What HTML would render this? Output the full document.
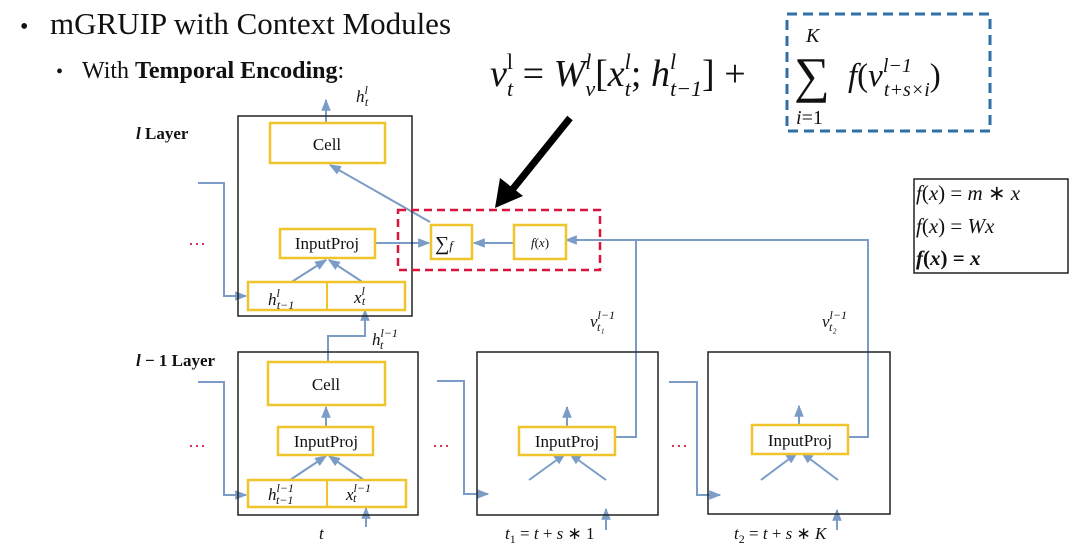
<!DOCTYPE html>
<html><head><meta charset="utf-8"><style>
html,body{margin:0;padding:0;background:#fff;width:1080px;height:546px;overflow:hidden}
svg{display:block}
text{font-family:"Liberation Serif",serif;fill:#111}
.i{font-style:italic}
</style></head><body>
<svg width="1080" height="546" viewBox="0 0 1080 546" xmlns="http://www.w3.org/2000/svg">
<defs>
<marker id="a" viewBox="0 0 10 10" refX="9" refY="5" markerWidth="6" markerHeight="6" orient="auto"><path d="M0,1 L10,5 L0,9 z" fill="#7a9cc6"/></marker>
</defs>
<text x="20" y="34" font-size="24">•</text>
<text x="50" y="34" font-size="31">mGRUIP with Context Modules</text>
<text x="56" y="78" font-size="20">•</text>
<text x="82" y="78" font-size="24">With <tspan font-weight="bold">Temporal Encoding</tspan>:</text>
<text x="490" y="86" font-size="38" class="i">v<tspan font-size="22" dy="-17" font-style="normal">l</tspan><tspan font-size="22" dx="-6" dy="27">t</tspan><tspan dy="-10" font-style="normal"> = </tspan>W<tspan font-size="22" dy="-17">l</tspan><tspan font-size="22" dx="-6" dy="27">v</tspan><tspan dy="-10" font-style="normal">[</tspan>x<tspan font-size="22" dy="-17">l</tspan><tspan font-size="22" dx="-6" dy="27">t</tspan><tspan dy="-10" font-style="normal">; </tspan>h<tspan font-size="22" dy="-17">l</tspan><tspan font-size="22" dx="-6" dy="27">t−1</tspan><tspan dy="-10" font-style="normal">] +</tspan></text>
<text x="794" y="92" font-size="50" font-style="normal">∑</text>
<text x="806" y="42" font-size="20" class="i">K</text>
<text x="796" y="124" font-size="20" class="i">i<tspan font-style="normal">=1</tspan></text>
<text x="848" y="86" font-size="33" class="i">f<tspan font-style="normal">(</tspan>v<tspan font-size="20" dy="-14">l−1</tspan><tspan font-size="20" dx="-28" dy="24">t+s×i</tspan><tspan dy="-10" font-style="normal">)</tspan></text>
<rect x="787" y="14" width="203" height="117" fill="none" stroke="#2f6fa6" stroke-width="3" stroke-dasharray="10,6"/>
<line x1="570" y1="118" x2="512" y2="190" stroke="#000" stroke-width="7"/>
<path d="M495,208 L500,178 L523,196 z" fill="#000"/>
<text x="136" y="139" font-size="17" font-weight="bold"><tspan class="i">l</tspan> Layer</text>
<text x="136" y="366" font-size="17" font-weight="bold"><tspan class="i">l</tspan> − 1 Layer</text>
<text x="188" y="250" font-size="18" style="fill:#d0103a">···</text>
<text x="188" y="452" font-size="18" style="fill:#d0103a">···</text>
<text x="432" y="452" font-size="18" style="fill:#d0103a">···</text>
<text x="670" y="452" font-size="18" style="fill:#d0103a">···</text>
<g stroke="#7a9cc6" stroke-width="2" fill="none">
<path d="M198,183 H224 V296 H246" marker-end="url(#a)"/>
<line x1="326" y1="122" x2="326" y2="100" marker-end="url(#a)"/>
<line x1="430" y1="222" x2="330" y2="165" marker-end="url(#a)"/>
<line x1="290" y1="283" x2="326" y2="260" marker-end="url(#a)"/>
<line x1="364" y1="283" x2="329" y2="260" marker-end="url(#a)"/>
<line x1="375" y1="243" x2="429" y2="243" marker-end="url(#a)"/>
<line x1="514" y1="243" x2="474" y2="243" marker-end="url(#a)"/>
<path d="M848,437 H868 V240 H566" marker-end="url(#a)"/>
<path d="M615,437 H636 V240"/>
<path d="M328,362 V336 H365 V310" marker-end="url(#a)"/>
<path d="M198,382 H224 V495 H246" marker-end="url(#a)"/>
<line x1="326" y1="427" x2="326" y2="407" marker-end="url(#a)"/>
<line x1="290" y1="480" x2="326" y2="456" marker-end="url(#a)"/>
<line x1="364" y1="480" x2="329" y2="456" marker-end="url(#a)"/>
<line x1="366" y1="527" x2="366" y2="508" marker-end="url(#a)"/>
<path d="M437,381 H464 V494 H488" marker-end="url(#a)"/>
<line x1="567" y1="427" x2="567" y2="407" marker-end="url(#a)"/>
<line x1="529" y1="480" x2="565" y2="454" marker-end="url(#a)"/>
<line x1="606" y1="480" x2="570" y2="454" marker-end="url(#a)"/>
<line x1="606" y1="530" x2="606" y2="509" marker-end="url(#a)"/>
<path d="M669,382 H697 V495 H720" marker-end="url(#a)"/>
<line x1="799" y1="425" x2="799" y2="406" marker-end="url(#a)"/>
<line x1="761" y1="480" x2="797" y2="453" marker-end="url(#a)"/>
<line x1="838" y1="480" x2="802" y2="453" marker-end="url(#a)"/>
<line x1="837" y1="530" x2="837" y2="510" marker-end="url(#a)"/>
</g>
<g fill="none" stroke="#222" stroke-width="1.5">
<rect x="238" y="116" width="174" height="200"/>
<rect x="238" y="352" width="180" height="163"/>
<rect x="477" y="352" width="181" height="163"/>
<rect x="708" y="352" width="182" height="162"/>
<rect x="914" y="179" width="154" height="94"/>
</g>
<g fill="#fff" stroke="#f0c52c" stroke-width="2.5">
<rect x="270" y="123" width="115" height="40"/>
<rect x="280" y="229" width="95" height="29"/>
<rect x="248" y="282" width="157" height="28"/>
<rect x="431" y="225" width="41" height="34"/>
<rect x="514" y="225" width="52" height="34"/>
<rect x="268" y="362" width="117" height="43"/>
<rect x="278" y="427" width="95" height="28"/>
<rect x="248" y="480" width="158" height="27"/>
<rect x="519" y="427" width="96" height="28"/>
<rect x="752" y="425" width="96" height="29"/>
</g>
<line x1="327" y1="282" x2="327" y2="310" stroke="#f0c52c" stroke-width="2"/>
<line x1="327" y1="480" x2="327" y2="507" stroke="#f0c52c" stroke-width="2"/>
<rect x="398" y="210" width="202" height="60" fill="none" stroke="#d8143a" stroke-width="2.5" stroke-dasharray="8,5"/>
<g font-size="17" text-anchor="middle">
<text x="327" y="150">Cell</text>
<text x="327" y="249">InputProj</text>
<text x="326" y="390">Cell</text>
<text x="326" y="447">InputProj</text>
<text x="567" y="447">InputProj</text>
<text x="800" y="446">InputProj</text>
</g>
<text x="435" y="250" font-size="20">∑<tspan font-size="13" class="i">f</tspan></text>
<text x="540" y="247" font-size="13" class="i" text-anchor="middle">f<tspan font-style="normal">(</tspan>x<tspan font-style="normal">)</tspan></text>
<g class="i" font-size="17">
<text x="268" y="305">h<tspan font-size="12" dy="-8">l</tspan><tspan font-size="12" dx="-3" dy="12">t−1</tspan></text>
<text x="354" y="303">x<tspan font-size="12" dy="-8">l</tspan><tspan font-size="12" dx="-3" dy="10">t</tspan></text>
<text x="268" y="500">h<tspan font-size="12" dy="-8">l−1</tspan><tspan font-size="12" dx="-18" dy="12">t−1</tspan></text>
<text x="346" y="500">x<tspan font-size="12" dy="-8">l−1</tspan><tspan font-size="12" dx="-18" dy="10">t</tspan></text>
<text x="356" y="102">h<tspan font-size="12" dy="-8">l</tspan><tspan font-size="12" dx="-3" dy="12">t</tspan></text>
<text x="372" y="345">h<tspan font-size="12" dy="-8">l−1</tspan><tspan font-size="12" dx="-18" dy="12">t</tspan></text>
<text x="590" y="327">v<tspan font-size="12" dy="-8">l−1</tspan><tspan font-size="12" dx="-18" dy="12">t₁</tspan></text>
<text x="822" y="327">v<tspan font-size="12" dy="-8">l−1</tspan><tspan font-size="12" dx="-18" dy="12">t₂</tspan></text>
<text x="319" y="539">t</text>
<text x="505" y="539">t<tspan font-size="12" dy="4" font-style="normal">1</tspan><tspan dy="-4" font-style="normal"> = </tspan>t<tspan font-style="normal"> + </tspan>s<tspan font-style="normal"> ∗ 1</tspan></text>
<text x="734" y="539">t<tspan font-size="12" dy="4" font-style="normal">2</tspan><tspan dy="-4" font-style="normal"> = </tspan>t<tspan font-style="normal"> + </tspan>s<tspan font-style="normal"> ∗ </tspan>K</text>
</g>
<g class="i" font-size="21">
<text x="916" y="200">f<tspan font-style="normal">(</tspan>x<tspan font-style="normal">) = </tspan>m<tspan font-style="normal"> ∗ </tspan>x</text>
<text x="916" y="233">f<tspan font-style="normal">(</tspan>x<tspan font-style="normal">) = </tspan>Wx</text>
<text x="916" y="265" font-weight="bold">f<tspan font-style="normal">(</tspan>x<tspan font-style="normal">) = </tspan>x</text>
</g>
</svg>
</body></html>
